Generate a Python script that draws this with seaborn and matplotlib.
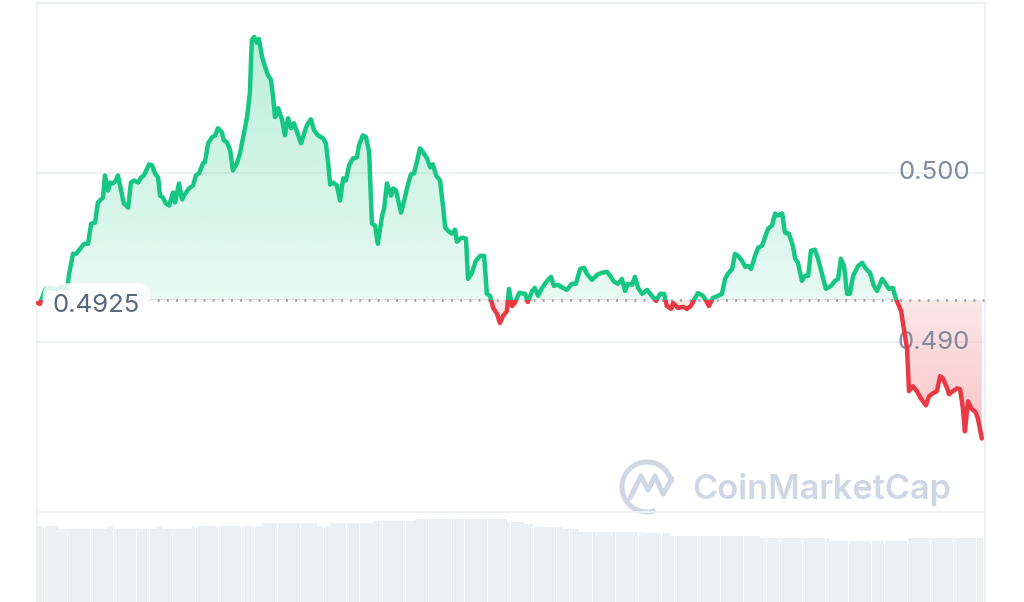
import numpy as np
import matplotlib
matplotlib.use("Agg")
import matplotlib.pyplot as plt
import matplotlib.colors as mcolors
from matplotlib.patches import Rectangle, Arc
import seaborn as sns

# --- data (24h, price in USD) ---
hours = [
    0.00, 0.05, 0.15, 0.20, 0.30, 0.48, 0.61, 0.71, 0.76, 0.79, 0.89, 0.97, 1.09, 1.17, 1.27,
    1.35, 1.45, 1.52, 1.65, 1.70, 1.78, 1.83, 1.90, 1.98, 2.03, 2.11, 2.18, 2.29, 2.36, 2.44,
    2.54, 2.62, 2.69, 2.82, 2.90, 2.97, 3.05, 3.10, 3.17, 3.25, 3.33, 3.43, 3.48, 3.58, 3.66,
    3.71, 3.83, 3.94, 4.01, 4.09, 4.19, 4.24, 4.32, 4.42, 4.50, 4.57, 4.67, 4.72, 4.80, 4.88,
    4.95, 5.05, 5.13, 5.21, 5.31, 5.38, 5.43, 5.49, 5.56, 5.61, 5.69, 5.77, 5.84, 5.92, 5.97,
    6.02, 6.10, 6.20, 6.27, 6.35, 6.43, 6.50, 6.58, 6.68, 6.76, 6.83, 6.93, 7.01, 7.11, 7.24,
    7.31, 7.37, 7.42, 7.49, 7.59, 7.67, 7.75, 7.82, 7.90, 8.00, 8.10, 8.15, 8.25, 8.33, 8.41,
    8.48, 8.56, 8.63, 8.74, 8.79, 8.86, 8.97, 9.02, 9.09, 9.22, 9.27, 9.37, 9.47, 9.55, 9.63,
    9.70, 9.78, 9.88, 9.96, 10.03, 10.11, 10.21, 10.29, 10.34, 10.41, 10.51, 10.59, 10.64, 10.72, 10.79,
    10.87, 10.92, 11.02, 11.12, 11.23, 11.33, 11.40, 11.48, 11.56, 11.66, 11.73, 11.81, 11.91, 11.96, 12.04,
    12.11, 12.22, 12.37, 12.44, 12.55, 12.62, 12.70, 12.80, 12.93, 13.03, 13.10, 13.21, 13.33, 13.43, 13.56,
    13.66, 13.77, 13.87, 13.94, 14.07, 14.20, 14.32, 14.45, 14.53, 14.63, 14.73, 14.83, 14.91, 14.98, 15.09,
    15.16, 15.24, 15.34, 15.47, 15.59, 15.70, 15.80, 15.90, 15.97, 16.08, 16.13, 16.25, 16.38, 16.48, 16.58,
    16.69, 16.76, 16.89, 16.97, 17.04, 17.14, 17.27, 17.37, 17.45, 17.52, 17.63, 17.70, 17.78, 17.88, 17.96,
    18.03, 18.11, 18.21, 18.29, 18.39, 18.46, 18.54, 18.64, 18.72, 18.79, 18.90, 18.97, 19.07, 19.17, 19.23,
    19.30, 19.40, 19.48, 19.56, 19.63, 19.73, 19.81, 19.91, 20.01, 20.14, 20.24, 20.32, 20.39, 20.47, 20.55,
    20.62, 20.70, 20.83, 20.93, 21.03, 21.13, 21.23, 21.31, 21.44, 21.51, 21.61, 21.71, 21.79, 21.92, 21.97,
    22.07, 22.12, 22.22, 22.32, 22.42, 22.55, 22.63, 22.73, 22.83, 22.91, 22.98, 23.09, 23.14, 23.24, 23.34,
    23.42, 23.49, 23.54, 23.62, 23.72, 23.80, 23.87, 23.97,
]
price = [
    0.49232, 0.49226, 0.49291, 0.49315, 0.49321, 0.49315, 0.49327, 0.49315, 0.49351, 0.49404, 0.49522, 0.49522, 0.49558, 0.49581, 0.49581,
    0.49700, 0.49706, 0.49824, 0.49854, 0.49984, 0.49895, 0.49942, 0.49936, 0.49954, 0.49984, 0.49895, 0.49818, 0.49794, 0.49942, 0.49954,
    0.49942, 0.49972, 0.49984, 0.50049, 0.50043, 0.49996, 0.49972, 0.49865, 0.49854, 0.49818, 0.49806, 0.49883, 0.49824, 0.49936, 0.49842,
    0.49865, 0.49907, 0.49925, 0.49984, 0.49996, 0.50055, 0.50061, 0.50173, 0.50209, 0.50220, 0.50262, 0.50238, 0.50191, 0.50179, 0.50132,
    0.50013, 0.50055, 0.50114, 0.50209, 0.50327, 0.50469, 0.50782, 0.50800, 0.50765, 0.50788, 0.50682, 0.50623, 0.50575, 0.50546, 0.50445,
    0.50327, 0.50380, 0.50309, 0.50220, 0.50321, 0.50262, 0.50291, 0.50238, 0.50173, 0.50232, 0.50280, 0.50315, 0.50250, 0.50220, 0.50203,
    0.50173, 0.50055, 0.49930, 0.49942, 0.49925, 0.49836, 0.49966, 0.49954, 0.50043, 0.50084, 0.50090, 0.50161, 0.50220, 0.50209, 0.50120,
    0.49700, 0.49688, 0.49581, 0.49747, 0.49788, 0.49936, 0.49865, 0.49907, 0.49895, 0.49765, 0.49806, 0.49907, 0.49990, 0.49996, 0.50072,
    0.50143, 0.50120, 0.50084, 0.50031, 0.50049, 0.49984, 0.49954, 0.49794, 0.49676, 0.49658, 0.49641, 0.49664, 0.49593, 0.49611, 0.49617,
    0.49611, 0.49374, 0.49410, 0.49481, 0.49510, 0.49510, 0.49286, 0.49274, 0.49203, 0.49167, 0.49114, 0.49155, 0.49185, 0.49315, 0.49214,
    0.49232, 0.49291, 0.49286, 0.49238, 0.49303, 0.49321, 0.49274, 0.49321, 0.49362, 0.49386, 0.49333, 0.49339, 0.49321, 0.49309, 0.49345,
    0.49345, 0.49433, 0.49439, 0.49404, 0.49368, 0.49398, 0.49410, 0.49416, 0.49392, 0.49357, 0.49345, 0.49374, 0.49303, 0.49345, 0.49339,
    0.49386, 0.49321, 0.49286, 0.49309, 0.49274, 0.49244, 0.49286, 0.49286, 0.49214, 0.49197, 0.49232, 0.49203, 0.49209, 0.49197, 0.49214,
    0.49262, 0.49291, 0.49274, 0.49244, 0.49214, 0.49262, 0.49274, 0.49286, 0.49374, 0.49404, 0.49433, 0.49522, 0.49510, 0.49481, 0.49445,
    0.49451, 0.49433, 0.49510, 0.49558, 0.49570, 0.49617, 0.49670, 0.49688, 0.49759, 0.49747, 0.49759, 0.49646, 0.49641, 0.49570, 0.49493,
    0.49469, 0.49362, 0.49392, 0.49392, 0.49540, 0.49546, 0.49493, 0.49404, 0.49315, 0.49333, 0.49362, 0.49374, 0.49493, 0.49451, 0.49286,
    0.49286, 0.49392, 0.49451, 0.49469, 0.49433, 0.49410, 0.49333, 0.49303, 0.49374, 0.49351, 0.49315, 0.49321, 0.49256, 0.49185, 0.49108,
    0.48966, 0.48712, 0.48741, 0.48712, 0.48670, 0.48629, 0.48682, 0.48700, 0.48712, 0.48800, 0.48788, 0.48729, 0.48694, 0.48712, 0.48729,
    0.48723, 0.48611, 0.48475, 0.48652, 0.48605, 0.48593, 0.48552, 0.48433,
]
base_price = 0.4925
grid_levels = [0.480, 0.490, 0.500, 0.510]
label_levels = [0.490, 0.500]
label_text = ["0.490", "0.500"]

# volume: 5-minute bars, grouped in runs of equal height (relative units)
vol_counts = [6, 15, 2, 13, 2, 9, 21, 17, 4, 13, 13, 28, 5, 3, 9, 5, 20, 8, 27, 21, 24, 23]
vol_levels = [76, 73, 76, 73, 76, 73, 76, 79, 76, 79, 81, 83, 80, 78, 75, 73, 70, 69, 66, 64, 61, 64]

GREEN = "#16c784"
RED = "#ea3943"
GRID = "#eff2f5"
LABEL = "#808a9d"
WM = "#cfd6e4"

sns.set_style("white")
plt.rcParams["font.family"] = ["Inter", "DejaVu Sans"]

W, H = 1024, 602
fig = plt.figure(figsize=(W / 100, H / 100), dpi=100)
fig.patch.set_facecolor("white")

# background layer in pixel coords: frame lines + watermark
bg = fig.add_axes([0, 0, 1, 1])
bg.set_xlim(0, W)
bg.set_ylim(H, 0)
bg.axis("off")
for xv in (37, 985):
    bg.plot([xv, xv], [2, H], color=GRID, lw=1.5)
bg.add_patch(Arc((647, 487), 50, 50, theta1=70, theta2=350, color=WM, lw=3.6))
bg.plot([630, 641, 648, 655, 663, 672], [498, 476, 490, 476, 494, 479],
        color=WM, lw=3.6, solid_joinstyle="round", solid_capstyle="round")
bg.text(692, 489, "CoinMarketCap", fontsize=24.7, fontweight="semibold", color=WM,
        ha="left", va="center")

XMAX = 24 * 947 / 945

# price panel
ax = fig.add_axes([38 / W, (H - 512) / H, 947 / W, 509 / H])
ax.patch.set_alpha(0)
for lvl in grid_levels:
    ax.axhline(lvl, color=GRID, lw=1.5, zorder=0, clip_on=False)


def grad(color, a_bottom, a_top, n=256):
    img = np.zeros((n, 1, 4))
    img[..., :3] = mcolors.to_rgb(color)
    img[:, 0, 3] = np.linspace(a_bottom, a_top, n)
    return img


area = ax.fill_between(hours, price, base_price, facecolor="none", edgecolor="none")
clip = area.get_paths()[0]
g_img = ax.imshow(grad(GREEN, 0.10, 0.32), extent=[0, XMAX, base_price, 0.510],
                  origin="lower", aspect="auto", zorder=1, interpolation="bilinear")
g_img.set_clip_path(clip, transform=ax.transData)
r_img = ax.imshow(grad(RED, 0.40, 0.12), extent=[0, XMAX, 0.480, base_price],
                  origin="lower", aspect="auto", zorder=1, interpolation="bilinear")
r_img.set_clip_path(clip, transform=ax.transData)

ax.axhline(base_price, color="#9ea6b5", lw=2.0, dashes=(0.7, 2.6), zorder=2)

for lvl, txt in zip(label_levels, label_text):
    ax.text(23.67, lvl, txt, fontsize=18.5, color=LABEL, ha="right", va="center", zorder=2.5)

sns.lineplot(x=hours, y=price, ax=ax, color=GREEN, lw=3.2, zorder=3,
             solid_joinstyle="round", solid_capstyle="round")
ln_up = ax.lines[-1]
sns.lineplot(x=hours, y=price, ax=ax, color=RED, lw=3.2, zorder=3,
             solid_joinstyle="round", solid_capstyle="round")
ln_dn = ax.lines[-1]
ln_up.set_clip_path(Rectangle((-1, base_price), 30, 1, transform=ax.transData))
ln_dn.set_clip_path(Rectangle((-1, base_price - 1), 30, 1, transform=ax.transData))

ax.text(0.38, base_price - 0.0003, "0.4925", fontsize=18.5, color="#58667e",
        ha="left", va="center", zorder=4,
        bbox=dict(boxstyle="round,pad=0.4,rounding_size=0.5", fc="white", ec="none", alpha=0.85))

ax.set_xlim(0, XMAX)
ax.set_ylim(0.480, 0.510)
ax.axis("off")

# volume strip
axv = fig.add_axes([38 / W, 0, 947 / W, 90 / H])
axv.patch.set_alpha(0)
vol = np.repeat(vol_levels, vol_counts)
slot_t = (np.arange(vol.size) + 0.5) * 24 / vol.size
sns.barplot(x=slot_t, y=vol, native_scale=True, color="#edf0f3", saturation=1,
            width=0.95, errorbar=None, linewidth=0, ax=axv)
axv.set_xlim(0, XMAX)
axv.set_ylim(0, 90)
axv.axis("off")

fig.savefig("out.png", dpi=100, facecolor="white")
